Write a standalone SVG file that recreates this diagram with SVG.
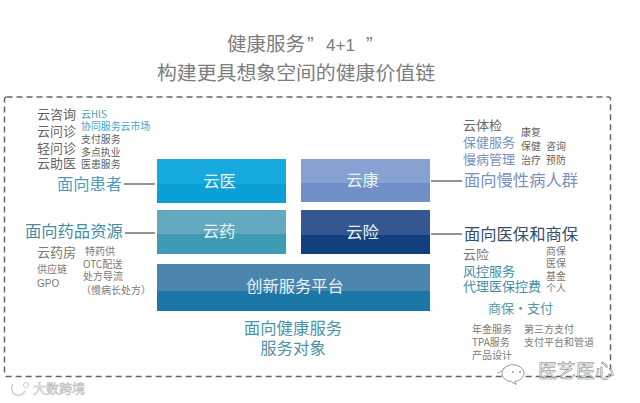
<svg xmlns="http://www.w3.org/2000/svg" width="640" height="403" viewBox="0 0 640 403">
<style>
text{font-family:"Noto Sans CJK SC","Noto Sans",sans-serif}
.title{font-size:19.5px;fill:#7d7d7d}
.lat{font-family:"Liberation Sans",sans-serif;fill:#7d7d7d}
.m{font-size:13px;fill:#666}
.s{font-size:9.9px;fill:#5f5f5f}
.sg{font-size:10px;fill:#7a7a7a}
.h{font-size:16.3px}
.box{font-size:16.3px;fill:#e6f4f8;text-anchor:middle}
.ln{stroke:#6f6f6f;stroke-width:1.5;fill:none}
.frame{fill:none;stroke:#666;stroke-width:1.5;stroke-dasharray:6 4}
.bl{fill:#4f9cc0}
.pb{fill:#7a90bf}
.tl{fill:#3f8ea6}
.aud{font-size:16.4px;fill:#4f93a8;text-anchor:middle}
</style>
<rect width="640" height="403" fill="#fff"/>
<g id="title">
<text class="title" x="227" y="51">健康服务</text>
<text class="lat" x="307" y="51" style="font-size:20px">”</text>
<text class="lat" x="326" y="51" style="font-size:17px">4+1</text>
<text class="lat" x="366" y="51" style="font-size:20px">”</text>
<text class="title" x="157" y="80" textLength="278" lengthAdjust="spacingAndGlyphs">构建更具想象空间的健康价值链</text>
</g>
<rect class="frame" x="4.5" y="97" width="606" height="279.5" rx="2"/>
<g id="connectors">
<path class="ln" d="M124 184H155"/>
<path class="ln" d="M125 233H155"/>
<path class="ln" d="M431 181H462"/>
<path class="ln" d="M431 234H462"/>
</g>
<g id="yunyi">
<rect x="157" y="159" width="129" height="44" fill="#0a9fd6"/>
<rect x="157" y="159" width="129" height="25" fill="#16a9de"/>
<text class="box" x="219.500" y="187">云医</text>
</g>
<g id="yunkang">
<rect x="301" y="159" width="129" height="43" fill="#6f8fc6"/>
<rect x="301" y="159" width="129" height="24" fill="#86a2d0"/>
<text class="box" x="362.500" y="186">云康</text>
</g>
<g id="yunyao">
<rect x="157" y="210" width="129" height="44" fill="#3d9bb3"/>
<rect x="157" y="210" width="129" height="24" fill="#65a9c0"/>
<text class="box" x="219" y="237">云药</text>
</g>
<g id="yunxian">
<rect x="301" y="210" width="129" height="44" fill="#123f80"/>
<rect x="301" y="210" width="129" height="25" fill="#35568f"/>
<text class="box" x="362.500" y="238">云险</text>
</g>
<g id="platform">
<rect x="157" y="264" width="273" height="47" fill="#1b77a6"/>
<rect x="157" y="264" width="273" height="27" fill="#4b85ad"/>
<text class="box" x="295" y="292">创新服务平台</text>
</g>
<g id="patients">
<text class="m" x="37" y="119">云咨询</text>
<text class="m" x="37" y="136">云问诊</text>
<text class="m" x="37" y="153">轻问诊</text>
<text class="m" x="37" y="168">云助医</text>
<text class="s" x="81" y="118" style="fill:#4aa3b8">云HIS</text>
<text class="s" x="81" y="130" style="fill:#4aa3c8">协同服务云市场</text>
<text class="s" x="81" y="143">支付服务</text>
<text class="s" x="81" y="156">多点执业</text>
<text class="s" x="81" y="168">医患服务</text>
<text class="h bl" x="57" y="190">面向患者</text>
</g>
<g id="pharma">
<text class="h tl" x="25" y="237">面向药品资源</text>
<text class="m" x="37" y="257" style="fill:#777">云药房</text>
<text class="sg" x="85" y="255">特药供</text>
<text class="sg" x="37" y="273">供应链</text>
<text class="sg" x="37" y="287" style="font-family:'Liberation Sans',sans-serif">GPO</text>
<text class="sg" x="83" y="268">OTC配送</text>
<text class="sg" x="83" y="280">处方导流</text>
<text class="sg" x="81" y="294">（慢病长处方）</text>
</g>
<g id="chronic">
<text class="m" x="463" y="130">云体检</text>
<text class="m pb" x="463" y="147">保健服务</text>
<text class="m pb" x="463" y="164">慢病管理</text>
<text class="s" x="521" y="136">康复</text>
<text class="s" x="521" y="150">保健</text>
<text class="s" x="546" y="150">咨询</text>
<text class="s" x="521" y="164">治疗</text>
<text class="s" x="546" y="164">预防</text>
<text class="h pb" x="464" y="186">面向慢性病人群</text>
</g>
<g id="insurance">
<text class="h" x="464" y="240" style="fill:#35506f">面向医保和商保</text>
<text class="m" x="463" y="259" style="fill:#777">云险</text>
<text class="m" x="463" y="276" style="fill:#3f8ea6">风控服务</text>
<text class="m" x="463" y="291" style="fill:#3f8ea6">代理医保控费</text>
<text class="sg" x="546" y="255">商保</text>
<text class="sg" x="546" y="267">医保</text>
<text class="sg" x="546" y="280">基金</text>
<text class="sg" x="546" y="292">个人</text>
<text class="m" x="488" y="313" style="fill:#4f9aa8">商保・支付</text>
<text class="sg" x="472" y="333">年金服务</text>
<text class="sg" x="472" y="346">TPA服务</text>
<text class="sg" x="472" y="359">产品设计</text>
<text class="sg" x="524" y="333">第三方支付</text>
<text class="sg" x="524" y="346">支付平台和管道</text>
</g>
<g id="audience">
<text class="aud" x="293" y="334">面向健康服务</text>
<text class="aud" x="293" y="354">服务对象</text>
</g>
<g id="watermarks">
<path d="M507 366a11 8.500 0 1 1 8 15.500l1 3-5-3a11 8.500 0 0 1-4-15.500z" fill="#fff" stroke="#999"/>
<circle cx="513" cy="372" r="1" fill="#999"/><circle cx="520" cy="372" r="1" fill="#999"/>
<path d="M505 368c-3 2-5 5-8 5" fill="none" stroke="#aaa"/>
<text x="538" y="378" style="font-size:19px;fill:#fff;fill-opacity:.7;stroke:#777;stroke-width:.5">医艺医心</text>
<text x="33" y="393" style="font-size:13px;fill:#fff;stroke:#bbb;stroke-width:.6">大数跨境</text>
<path d="M13 384a7 7 0 1 0 12 7" fill="none" stroke="#ccc" stroke-width="1.500"/>
<circle cx="26" cy="385" r="2.500" fill="none" stroke="#ccc"/>
</g>
</svg>
